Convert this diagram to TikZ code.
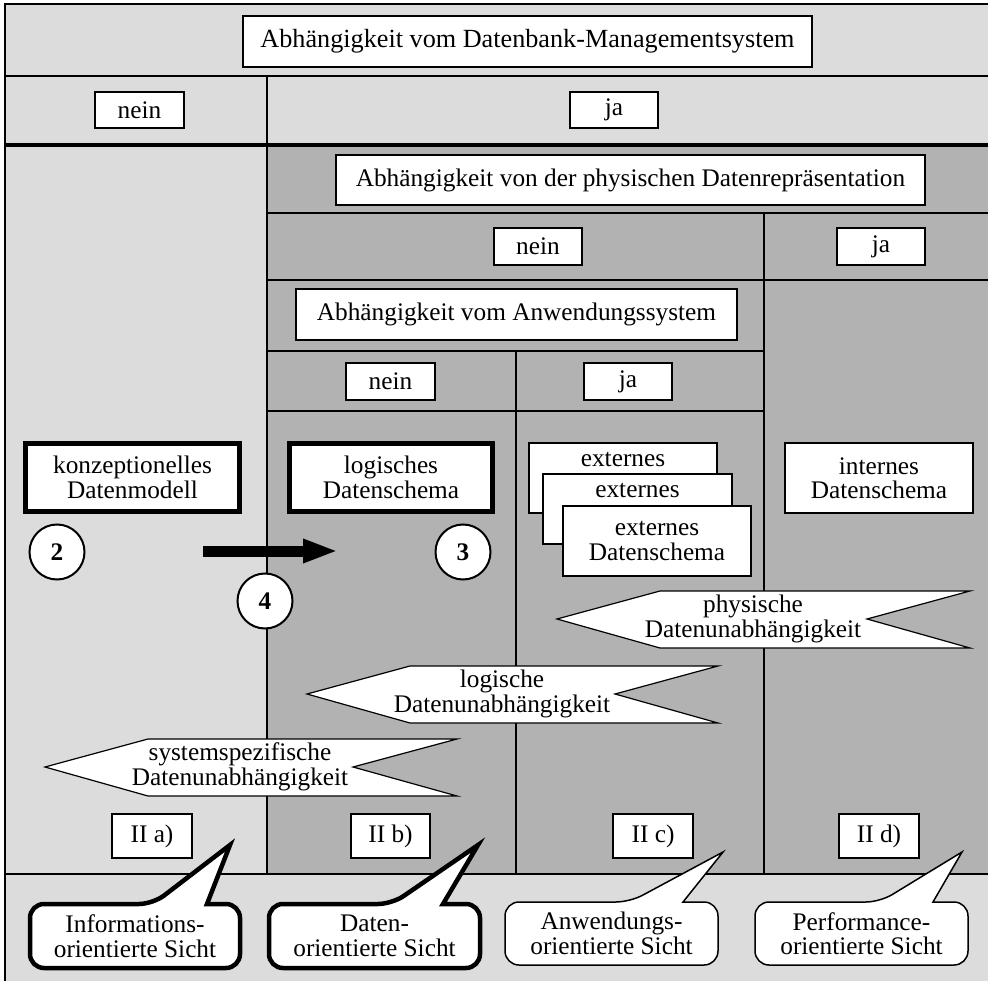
\documentclass[tikz,border=0pt]{standalone}
\usepackage{fontspec}
\setmainfont{Liberation Serif}
\usepackage{xcolor}
\usetikzlibrary{arrows.meta}
\definecolor{lightbg}{gray}{0.863}
\definecolor{darkbg}{gray}{0.70}

\begin{document}
\begin{tikzpicture}[x=1pt, y=-1pt,
  every node/.style={font=\fontsize{25.3}{24.5}\selectfont},
  box/.style={draw, fill=white, line width=1.2pt, inner sep=0pt, align=center},
  thickbox/.style={box, line width=4.5pt},
  num/.style={circle, draw, fill=white, line width=2pt, minimum size=55pt, inner sep=0pt,
    font=\fontsize{25.3}{24.5}\selectfont\bfseries},
  gridline/.style={line width=2.6pt},
  flag/.style={draw, fill=white, line width=1.2pt},
  txt/.style={align=center, inner sep=0pt}]
  \useasboundingbox (0,0) rectangle (988,981);
  % Background
  \fill[lightbg] (5,4) rectangle (988,981);
  \fill[darkbg] (267,145) rectangle (988,874);
  % Grid
  \draw[gridline] (988,4) -- (5,4) -- (5,981);
  \draw[gridline] (5,76) -- (988,76);
  \draw[gridline, line width=3.4pt] (5,145) -- (988,145);
  \draw[gridline] (267,76) -- (267,874);
  \draw[gridline] (267,213) -- (988,213);
  \draw[gridline] (267,280) -- (988,280);
  \draw[gridline] (764,213) -- (764,874);
  \draw[gridline] (267,351) -- (764,351);
  \draw[gridline] (516,351) -- (516,874);
  \draw[gridline] (267,411) -- (764,411);
  \draw[gridline] (5,874) -- (988,874);
  % Questions and answers
  \node[box, minimum width=569pt, minimum height=51pt, font=\fontsize{26.2}{25}\selectfont] (dbms) at (527.5,41.5) {Abhängigkeit vom Datenbank-Managementsystem};
  \node[box, minimum width=89pt, minimum height=36pt] (dbmsno) at (139.5,110) {nein};
  \node[box, minimum width=88pt, minimum height=36pt] (dbmsyes) at (614,110) {ja};
  \node[box, minimum width=589pt, minimum height=50pt] (phys) at (630.5,180) {Abhängigkeit von der physischen Datenrepräsentation};
  \node[box, minimum width=88pt, minimum height=37pt] (physno) at (538,246.5) {nein};
  \node[box, minimum width=88pt, minimum height=37pt] (physyes) at (881,246.5) {ja};
  \node[box, minimum width=441pt, minimum height=51pt] (app) at (516.5,314.5) {Abhängigkeit vom Anwendungssystem};
  \node[box, minimum width=89pt, minimum height=37pt] (appno) at (390.5,381.5) {nein};
  \node[box, minimum width=88pt, minimum height=37pt] (appyes) at (628,381.5) {ja};
  % Schemas
  \node[thickbox, minimum width=214pt, minimum height=68pt] (konz) at (132.5,477.5) {konzeptionelles\\Datenmodell};
  \node[thickbox, minimum width=203pt, minimum height=68pt] (logi) at (391,477.5) {logisches\\Datenschema};
  \node[box, minimum width=188pt, minimum height=70pt, text depth=38pt] (ext1) at (623,478) {externes};
  \node[box, minimum width=189pt, minimum height=70pt, text depth=38pt] (ext2) at (637.5,509) {externes};
  \node[box, minimum width=188pt, minimum height=70pt] (ext3) at (657,541) {externes\\Datenschema};
  \node[box, minimum width=188pt, minimum height=70pt] (intern) at (879,478) {internes\\Datenschema};
  % Arrow and numbers
  \coordinate (arrowS) at (203,551);
  \coordinate (arrowE) at (338,551);
  \draw[line width=11pt, -{Triangle[length=35pt,width=22pt]}] (arrowS) -- (arrowE);
  \node[num] (two) at (57,552) {2};
  \node[num] (three) at (463,552) {3};
  \node[num] (four) at (265,601) {4};
  % Independence flags
  \draw[flag] (557,619) -- (660,591) -- (970,591) -- (867,619) -- (970,648) -- (660,648) -- cycle;
  \node[txt] (physflag) at (753,619) {physische\\Datenunabhängigkeit};
  \draw[flag] (307,694) -- (410,666) -- (718,666) -- (615,694) -- (718,723) -- (410,723) -- cycle;
  \node[txt] (logiflag) at (502,694) {logische\\Datenunabhängigkeit};
  \draw[flag] (45,767) -- (148,739) -- (457,739) -- (353,767) -- (457,796) -- (148,796) -- cycle;
  \node[txt] (sysflag) at (240,767) {systemspezifische\\Datenunabhängigkeit};
  % Views
  \node[box, minimum width=80pt, minimum height=44pt] (viewa) at (152,836) {II a)};
  \node[box, minimum width=79pt, minimum height=44pt] (viewb) at (390.5,836) {II b)};
  \node[box, minimum width=80pt, minimum height=44pt] (viewc) at (653,836) {II c)};
  \node[box, minimum width=80pt, minimum height=44pt] (viewd) at (879,836) {II d)};
  % Callouts
  \draw[fill=white, line width=4.5pt, rounded corners=14pt] (30,936) -- (30,904) -- (153,904) [sharp corners] -- (230,845) -- (207,904) [rounded corners=14pt] -- (240,904) -- (240,968) -- (30,968) -- cycle;
  \node[txt] (infoview) at (135,936) {Informations-\\orientierte Sicht};
  \draw[fill=white, line width=4.5pt, rounded corners=14pt] (269,936) -- (269,904) -- (392,904) [sharp corners] -- (478,845) -- (443,904) [rounded corners=14pt] -- (480,904) -- (480,968) -- (269,968) -- cycle;
  \node[txt] (dataview) at (374.5,936) {Daten-\\orientierte Sicht};
  \draw[fill=white, line width=1.5pt, rounded corners=14pt] (505,933) -- (505,902) -- (630,902) [sharp corners] -- (723,852) -- (683,902) [rounded corners=14pt] -- (718,902) -- (718,965) -- (505,965) -- cycle;
  \node[txt] (appview) at (611.5,933.5) {Anwendungs-\\orientierte Sicht};
  \draw[fill=white, line width=1.5pt, rounded corners=14pt] (755,933) -- (755,902) -- (880,902) [sharp corners] -- (962,852) -- (933,902) [rounded corners=14pt] -- (968,902) -- (968,965) -- (755,965) -- cycle;
  \node[txt] (perfview) at (861.5,933.5) {Performance-\\orientierte Sicht};
\end{tikzpicture}
\end{document}
